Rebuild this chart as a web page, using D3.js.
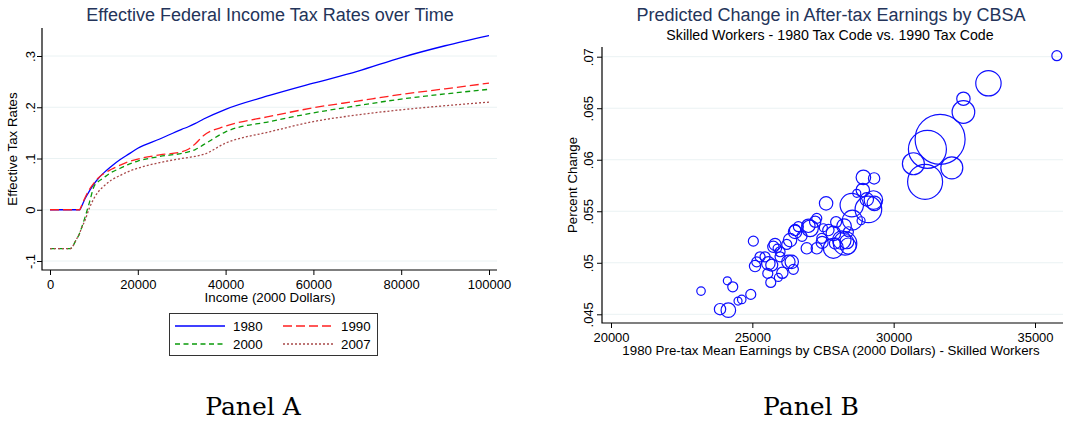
<!DOCTYPE html>
<html>
<head>
<meta charset="utf-8">
<script src="https://d3js.org/d3.v7.min.js"></script>
<style>
  body { margin: 0; background: #fff; }
  svg { font-family: "Liberation Sans", Arial, sans-serif; }
  .grid line { stroke: #eaf2f3; stroke-width: 1; }
  .tick text { font-size: 13px; fill: #000; }
</style>
</head>
<body>
<div id="chart"></div>
<script>
// ---- Panel A: effective tax rates by income ----
const incomes = [0, 4600, 6000, 6800, 7000, 8000, 9000, 10000, 11000, 12000, 14000, 16000, 18000,
  20000, 25000, 30000, 31500, 33000, 35000, 40000, 50000, 60000, 70000, 80000, 90000, 100000]
const rate1980 = [0, 0, 0, 0, 0.003, 0.022, 0.037, 0.05, 0.061, 0.07, 0.085, 0.098, 0.109,
  0.12, 0.138, 0.157, 0.162, 0.168, 0.177, 0.196, 0.223, 0.247, 0.27, 0.297, 0.32, 0.34]
const rate1990 = [0, 0, 0, 0, 0.004, 0.024, 0.04, 0.052, 0.062, 0.069, 0.079, 0.087, 0.094,
  0.099, 0.107, 0.113, 0.118, 0.128, 0.145, 0.163, 0.182, 0.199, 0.212, 0.225, 0.236, 0.247]
const rate2000 = [-0.076, -0.076, -0.058, -0.045, -0.04, -0.014, 0.015, 0.045, 0.055, 0.061, 0.073, 0.081, 0.089,
  0.095, 0.104, 0.11, 0.113, 0.117, 0.127, 0.152, 0.172, 0.189, 0.203, 0.216, 0.226, 0.235]
const rate2007 = [-0.076, -0.076, -0.058, -0.045, -0.04, -0.02, 0.004, 0.022, 0.035, 0.044, 0.058, 0.067, 0.075,
  0.081, 0.092, 0.1, 0.102, 0.104, 0.108, 0.13, 0.152, 0.172, 0.185, 0.195, 0.203, 0.21]
const years = ["1980", "1990", "2000", "2007"]
const xTicksA = [0, 20000, 40000, 60000, 80000, 100000]
const yTicksA = [-0.1, 0, 0.1, 0.2, 0.3]

// ---- Panel B: predicted change by CBSA (earnings, % change, bubble weight) ----
const cbsaEarnings = [35773, 33353, 32468, 32468, 31643, 31194, 30698, 32057, 31112, 28929,
  29308, 28908, 28695, 28518, 29106, 29318, 27609, 28540, 28847, 28246,
  27280, 27513, 26982, 27867, 28164, 28281, 27867, 27280, 26926, 26512,
  26629, 26512, 26218, 26335, 25744, 25804, 25036, 25981, 26275, 26452,
  26062, 25921, 25652, 25546, 25567, 25273, 25156, 25096, 24116, 24307,
  23185, 24944, 24625, 24494, 23857, 24151, 27223, 27042, 27456, 27690,
  28398, 27927, 25450, 25981, 28392, 29049, 29283, 28341, 25687, 26394,
  25885, 26759, 27470, 27963]
const cbsaChange = [0.0701, 0.06742, 0.06592, 0.06463, 0.06198, 0.06101, 0.05961, 0.05922, 0.05786, 0.05829,
  0.05819, 0.05706, 0.05674, 0.0556, 0.05518, 0.05577, 0.05577, 0.05414, 0.05408, 0.05356,
  0.05431, 0.0534, 0.05359, 0.05285, 0.0522, 0.05188, 0.0514, 0.0514, 0.0514, 0.05317,
  0.0535, 0.053, 0.05178, 0.0522, 0.05155, 0.05178, 0.0521, 0.05058, 0.05009, 0.04936,
  0.04903, 0.04858, 0.04809, 0.04897, 0.04994, 0.05058, 0.05009, 0.04968, 0.04825, 0.04767,
  0.04725, 0.04693, 0.04644, 0.04628, 0.0455, 0.0454, 0.05398, 0.05334, 0.05237, 0.05317,
  0.05301, 0.05188, 0.05058, 0.05107, 0.05163, 0.05615, 0.05609, 0.05204, 0.04978, 0.05009,
  0.0514, 0.05257, 0.05198, 0.05395]
const cbsaWeight = [25, 161, 45, 128, 625, 361, 121, 121, 306, 53,
  32, 45, 16, 137, 177, 53, 45, 100, 16, 53,
  25, 16, 45, 53, 86, 137, 100, 32, 32, 32,
  25, 45, 25, 45, 32, 36, 25, 25, 45, 25,
  32, 16, 25, 25, 45, 25, 25, 32, 16, 25,
  18, 25, 18, 16, 32, 53, 32, 69, 25, 32,
  25, 32, 25, 25, 64, 45, 86, 49, 36, 45,
  18, 25, 36, 30]
const xTicksB = [20000, 25000, 30000, 35000]
const yTicksB = [0.045, 0.05, 0.055, 0.06, 0.065, 0.07]

const stataNum = (v) => {
  if (Math.abs(v) < 1e-9) return "0"
  const s = String(+v.toFixed(4))
  return s.replace(/^(-?)0\./, "$1.")
}

const svg = d3.select("#chart").append("svg")
  .attr("width", 1070).attr("height", 423)

const titleColor = "#24345a"
const labelSize = "13.3px"

// ================= Panel A =================
const A = { left: 42, right: 497, top: 28, bottom: 270 }
const xA = d3.scaleLinear().domain([0, 100000]).range([50, 489])
const yA = d3.scaleLinear().domain([-0.1, 0.3]).range([261, 56])

const gA = svg.append("g")
gA.append("g").attr("class", "grid")
  .selectAll("line").data(yTicksA).join("line")
  .attr("x1", A.left).attr("x2", A.right)
  .attr("y1", d => yA(d)).attr("y2", d => yA(d))

const seriesA = [
  { year: "1980", vals: rate1980, color: "#0000ff", dash: null },
  { year: "1990", vals: rate1990, color: "#ff2020", dash: "9,4" },
  { year: "2000", vals: rate2000, color: "#0a9a0a", dash: "5,3.5" },
  { year: "2007", vals: rate2007, color: "#a84848", dash: "2,2" }
]
const lineA = d3.line().x(d => xA(d[0])).y(d => yA(d[1])).curve(d3.curveMonotoneX)
gA.selectAll(".series").data(seriesA).join("path")
  .attr("class", "series")
  .attr("fill", "none")
  .attr("stroke", d => d.color)
  .attr("stroke-width", 1.3)
  .attr("stroke-dasharray", d => d.dash)
  .attr("d", d => lineA(incomes.map((x, i) => [x, d.vals[i]])))

// axes
gA.append("g").attr("transform", `translate(0,${A.bottom})`)
  .call(d3.axisBottom(xA).tickValues(xTicksA).tickFormat(d3.format("d")).tickSize(5))
  .call(g => g.select(".domain").remove())
  .call(g => g.selectAll(".tick text").attr("dy", null).attr("y", 19))
gA.append("g").attr("transform", `translate(${A.left},0)`)
  .call(d3.axisLeft(yA).tickValues(yTicksA).tickFormat(stataNum).tickSize(5))
  .call(g => g.select(".domain").remove())
  .call(g => g.selectAll(".tick text")
    .attr("x", 0).attr("y", -7).attr("dy", null)
    .attr("text-anchor", "middle").attr("transform", "rotate(-90)"))
gA.append("path").attr("fill", "none").attr("stroke", "#000").attr("stroke-width", 1.2)
  .attr("d", `M${A.left},${A.top}V${A.bottom}H${A.right}`)

gA.append("text").attr("x", 270).attr("y", 21).attr("text-anchor", "middle")
  .attr("fill", titleColor).style("font-size", "18px")
  .text("Effective Federal Income Tax Rates over Time")
gA.append("text").attr("x", 270).attr("y", 302).attr("text-anchor", "middle")
  .style("font-size", labelSize).text("Income (2000 Dollars)")
gA.append("text").attr("transform", `translate(17,${(A.top + A.bottom) / 2}) rotate(-90)`)
  .attr("text-anchor", "middle").style("font-size", labelSize).text("Effective Tax Rates")

// legend
const leg = gA.append("g")
leg.append("rect").attr("x", 169.5).attr("y", 313.5).attr("width", 208).attr("height", 42)
  .attr("fill", "#fff").attr("stroke", "#333").attr("stroke-width", 1)
const legPos = [[175, 326], [283, 326], [175, 344], [283, 344]]
seriesA.forEach((s, i) => {
  const [lx, ly] = legPos[i]
  leg.append("line").attr("x1", lx).attr("x2", lx + 50).attr("y1", ly).attr("y2", ly)
    .attr("stroke", s.color).attr("stroke-width", 1.3).attr("stroke-dasharray", s.dash)
  leg.append("text").attr("x", lx + 58).attr("y", ly + 4.8).style("font-size", labelSize).text(s.year)
})

// ================= Panel B =================
const B = { left: 602, right: 1063, top: 47, bottom: 323 }
const xB = d3.scaleLinear().domain([20000, 35000]).range([611, 1035])
const yB = d3.scaleLinear().domain([0.045, 0.07]).range([314.3, 56.7])
const rB = d3.scaleSqrt().domain([0, 625]).range([0, 25])

const gB = svg.append("g")
gB.append("g").attr("class", "grid")
  .selectAll("line").data(yTicksB).join("line")
  .attr("x1", B.left).attr("x2", B.right)
  .attr("y1", d => yB(d)).attr("y2", d => yB(d))

gB.selectAll("circle").data(cbsaEarnings.map((e, i) => [e, cbsaChange[i], cbsaWeight[i]]))
  .join("circle")
  .attr("cx", d => xB(d[0])).attr("cy", d => yB(d[1])).attr("r", d => rB(d[2]))
  .attr("fill", "none").attr("stroke", "#1010ff").attr("stroke-width", 1.2)

gB.append("g").attr("transform", `translate(0,${B.bottom})`)
  .call(d3.axisBottom(xB).tickValues(xTicksB).tickFormat(d3.format("d")).tickSize(5))
  .call(g => g.select(".domain").remove())
  .call(g => g.selectAll(".tick text").attr("dy", null).attr("y", 18.5))
gB.append("g").attr("transform", `translate(${B.left},0)`)
  .call(d3.axisLeft(yB).tickValues(yTicksB).tickFormat(stataNum).tickSize(5))
  .call(g => g.select(".domain").remove())
  .call(g => g.selectAll(".tick text")
    .attr("x", 0).attr("y", -9).attr("dy", null)
    .attr("text-anchor", "middle").attr("transform", "rotate(-90)"))
gB.append("path").attr("fill", "none").attr("stroke", "#000").attr("stroke-width", 1.2)
  .attr("d", `M${B.left},${B.top}V${B.bottom}H${B.right}`)

gB.append("text").attr("x", 831).attr("y", 21).attr("text-anchor", "middle")
  .attr("fill", titleColor).style("font-size", "18px")
  .text("Predicted Change in After-tax Earnings by CBSA")
gB.append("text").attr("x", 830).attr("y", 40).attr("text-anchor", "middle")
  .style("font-size", "14.2px").text("Skilled Workers - 1980 Tax Code vs. 1990 Tax Code")
gB.append("text").attr("x", 831).attr("y", 355).attr("text-anchor", "middle")
  .style("font-size", labelSize).text("1980 Pre-tax Mean Earnings by CBSA (2000 Dollars) - Skilled Workers")
gB.append("text").attr("transform", `translate(577,${(B.top + B.bottom) / 2}) rotate(-90)`)
  .attr("text-anchor", "middle").style("font-size", labelSize).text("Percent Change")

// panel captions
svg.selectAll(".caption").data(["Panel A", "Panel B"]).join("text")
  .attr("class", "caption")
  .attr("x", (d, i) => i === 0 ? 253 : 811).attr("y", 415)
  .attr("text-anchor", "middle")
  .style("font-family", "'DejaVu Serif', serif").style("font-size", "25px")
  .text(d => d)
</script>
</body>
</html>
